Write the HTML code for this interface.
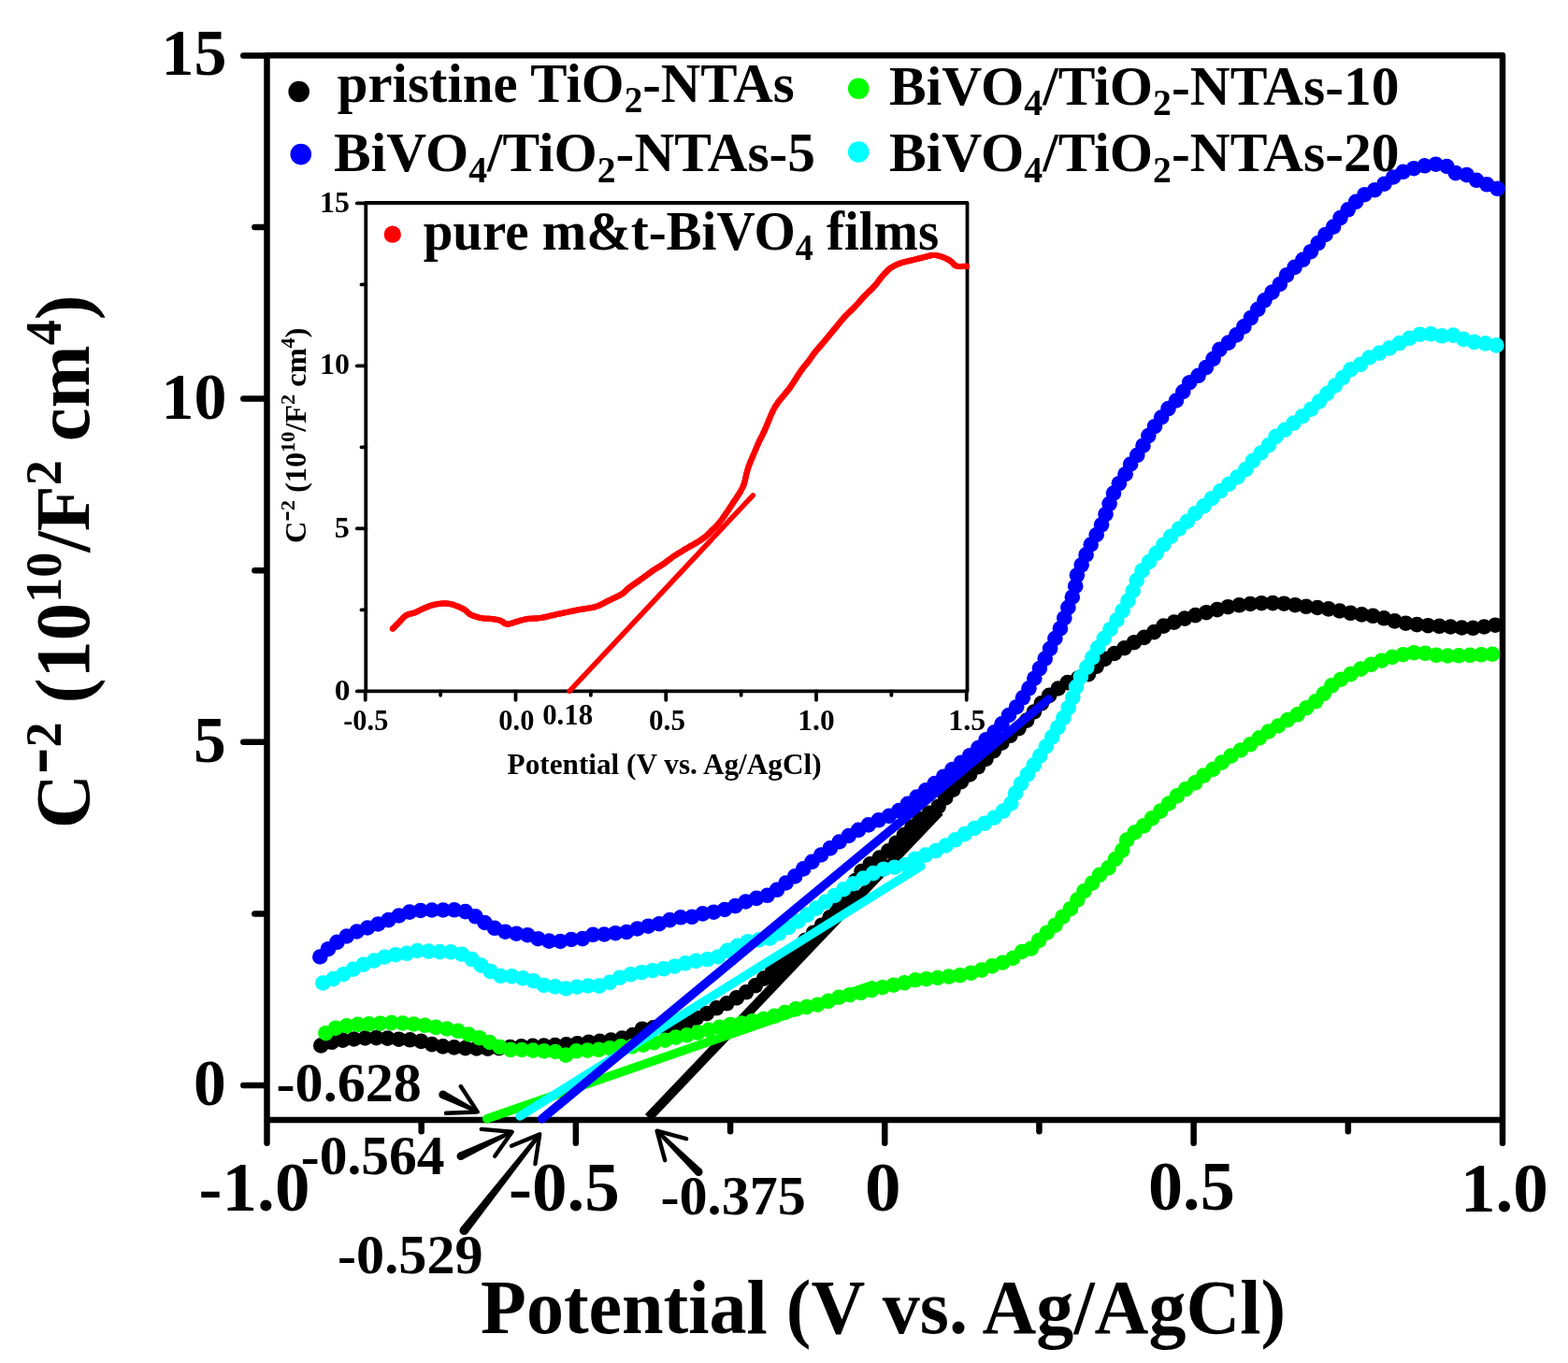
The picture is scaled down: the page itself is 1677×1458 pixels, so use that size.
<!DOCTYPE html>
<html><head><meta charset="utf-8"><title>Mott-Schottky plot</title>
<style>html,body{margin:0;padding:0;background:#fff;overflow:hidden;width:1677px;height:1458px;}svg{display:block;}</style>
</head><body>
<svg width="1677" height="1458" viewBox="0 0 1677 1458" font-family="'Liberation Serif','Times New Roman',serif" font-weight="bold">
<rect width="1677" height="1458" fill="#fff"/>
<path d="M285.5,59.3 H1607.0 V1198.0 H285.5 Z" fill="none" stroke="#000" stroke-width="6.5" stroke-linejoin="round"/><line x1="260.3" y1="1161.0" x2="283.5" y2="1161.0" stroke="#000" stroke-width="6.5" stroke-linecap="round"/><line x1="260.3" y1="793.8" x2="283.5" y2="793.8" stroke="#000" stroke-width="6.5" stroke-linecap="round"/><line x1="260.3" y1="426.6" x2="283.5" y2="426.6" stroke="#000" stroke-width="6.5" stroke-linecap="round"/><line x1="260.3" y1="59.40000000000009" x2="283.5" y2="59.40000000000009" stroke="#000" stroke-width="6.5" stroke-linecap="round"/><line x1="272.4" y1="977.4" x2="283.5" y2="977.4" stroke="#000" stroke-width="6.5" stroke-linecap="round"/><line x1="272.4" y1="610.2" x2="283.5" y2="610.2" stroke="#000" stroke-width="6.5" stroke-linecap="round"/><line x1="272.4" y1="243.0" x2="283.5" y2="243.0" stroke="#000" stroke-width="6.5" stroke-linecap="round"/><line x1="285.5" y1="1200.0" x2="285.5" y2="1222.8" stroke="#000" stroke-width="6.5" stroke-linecap="round"/><line x1="615.875" y1="1200.0" x2="615.875" y2="1222.8" stroke="#000" stroke-width="6.5" stroke-linecap="round"/><line x1="946.25" y1="1200.0" x2="946.25" y2="1222.8" stroke="#000" stroke-width="6.5" stroke-linecap="round"/><line x1="1276.625" y1="1200.0" x2="1276.625" y2="1222.8" stroke="#000" stroke-width="6.5" stroke-linecap="round"/><line x1="1607.0" y1="1200.0" x2="1607.0" y2="1222.8" stroke="#000" stroke-width="6.5" stroke-linecap="round"/><line x1="450.6875" y1="1200.0" x2="450.6875" y2="1210.3" stroke="#000" stroke-width="6.5" stroke-linecap="round"/><line x1="781.0625" y1="1200.0" x2="781.0625" y2="1210.3" stroke="#000" stroke-width="6.5" stroke-linecap="round"/><line x1="1111.4375" y1="1200.0" x2="1111.4375" y2="1210.3" stroke="#000" stroke-width="6.5" stroke-linecap="round"/><line x1="1441.8125" y1="1200.0" x2="1441.8125" y2="1210.3" stroke="#000" stroke-width="6.5" stroke-linecap="round"/>
<g fill="#000"><circle cx="343.3" cy="1118.4" r="8.3"/><circle cx="354.8" cy="1114.8" r="8.3"/><circle cx="366.6" cy="1112.6" r="8.3"/><circle cx="378.5" cy="1111.5" r="8.3"/><circle cx="390.5" cy="1110.5" r="8.3"/><circle cx="402.5" cy="1110.1" r="8.3"/><circle cx="414.5" cy="1110.6" r="8.3"/><circle cx="426.5" cy="1111.7" r="8.3"/><circle cx="438.5" cy="1112.3" r="8.3"/><circle cx="450.4" cy="1113.9" r="8.3"/><circle cx="461.9" cy="1117.1" r="8.3"/><circle cx="473.7" cy="1119.4" r="8.3"/><circle cx="485.7" cy="1120.4" r="8.3"/><circle cx="497.7" cy="1121.1" r="8.3"/><circle cx="509.7" cy="1121.5" r="8.3"/><circle cx="521.7" cy="1121.6" r="8.3"/><circle cx="533.7" cy="1121.1" r="8.3"/><circle cx="545.6" cy="1120.0" r="8.3"/><circle cx="557.6" cy="1119.3" r="8.3"/><circle cx="569.7" cy="1118.9" r="8.3"/><circle cx="581.7" cy="1118.6" r="8.3"/><circle cx="593.7" cy="1118.1" r="8.3"/><circle cx="605.7" cy="1117.4" r="8.3"/><circle cx="617.6" cy="1116.2" r="8.3"/><circle cx="629.6" cy="1114.9" r="8.3"/><circle cx="641.5" cy="1113.8" r="8.3"/><circle cx="653.5" cy="1112.6" r="8.3"/><circle cx="665.3" cy="1110.6" r="8.3"/><circle cx="676.8" cy="1107.1" r="8.3"/><circle cx="686.9" cy="1100.7" r="8.3"/><circle cx="698.8" cy="1099.3" r="8.3"/><circle cx="710.8" cy="1098.3" r="8.3"/><circle cx="722.8" cy="1097.7" r="8.3"/><circle cx="734.1" cy="1094.1" r="8.3"/><circle cx="744.9" cy="1089.0" r="8.3"/><circle cx="755.9" cy="1084.1" r="8.3"/><circle cx="766.4" cy="1078.3" r="8.3"/><circle cx="777.4" cy="1073.3" r="8.3"/><circle cx="787.8" cy="1067.4" r="8.3"/><circle cx="798.1" cy="1061.3" r="8.3"/><circle cx="807.9" cy="1054.3" r="8.3"/><circle cx="817.1" cy="1046.6" r="8.3"/><circle cx="826.1" cy="1038.6" r="8.3"/><circle cx="834.7" cy="1030.2" r="8.3"/><circle cx="843.9" cy="1022.5" r="8.3"/><circle cx="852.7" cy="1014.4" r="8.3"/><circle cx="861.2" cy="1005.8" r="8.3"/><circle cx="870.1" cy="997.7" r="8.3"/><circle cx="879.0" cy="989.7" r="8.3"/><circle cx="887.6" cy="981.3" r="8.3"/><circle cx="895.6" cy="972.3" r="8.3"/><circle cx="903.0" cy="962.9" r="8.3"/><circle cx="909.1" cy="952.6" r="8.3"/><circle cx="914.9" cy="942.0" r="8.3"/><circle cx="921.5" cy="932.0" r="8.3"/><circle cx="930.7" cy="924.4" r="8.3"/><circle cx="940.7" cy="917.6" r="8.3"/><circle cx="950.1" cy="910.3" r="8.3"/><circle cx="958.5" cy="901.7" r="8.3"/><circle cx="967.0" cy="893.1" r="8.3"/><circle cx="975.4" cy="884.6" r="8.3"/><circle cx="983.8" cy="876.0" r="8.3"/><circle cx="994.0" cy="869.8" r="8.3"/><circle cx="1003.6" cy="862.7" r="8.3"/><circle cx="1011.2" cy="853.4" r="8.3"/><circle cx="1019.4" cy="844.6" r="8.3"/><circle cx="1028.0" cy="836.2" r="8.3"/><circle cx="1037.1" cy="828.4" r="8.3"/><circle cx="1046.0" cy="820.3" r="8.3"/><circle cx="1054.5" cy="811.8" r="8.3"/><circle cx="1062.9" cy="803.2" r="8.3"/><circle cx="1071.4" cy="794.7" r="8.3"/><circle cx="1080.4" cy="786.8" r="8.3"/><circle cx="1089.6" cy="779.1" r="8.3"/><circle cx="1098.1" cy="770.6" r="8.3"/><circle cx="1105.9" cy="761.5" r="8.3"/><circle cx="1113.8" cy="752.4" r="8.3"/><circle cx="1122.2" cy="743.9" r="8.3"/><circle cx="1131.7" cy="736.5" r="8.3"/><circle cx="1141.8" cy="730.1" r="8.3"/><circle cx="1153.0" cy="725.6" r="8.3"/><circle cx="1164.1" cy="721.1" r="8.3"/><circle cx="1172.6" cy="712.8" r="8.3"/><circle cx="1181.6" cy="704.9" r="8.3"/><circle cx="1192.0" cy="699.0" r="8.3"/><circle cx="1202.6" cy="693.2" r="8.3"/><circle cx="1213.0" cy="687.2" r="8.3"/><circle cx="1223.7" cy="681.9" r="8.3"/><circle cx="1234.3" cy="676.1" r="8.3"/><circle cx="1244.4" cy="669.6" r="8.3"/><circle cx="1255.7" cy="665.6" r="8.3"/><circle cx="1267.0" cy="661.6" r="8.3"/><circle cx="1278.5" cy="658.1" r="8.3"/><circle cx="1290.2" cy="655.2" r="8.3"/><circle cx="1301.8" cy="652.1" r="8.3"/><circle cx="1313.4" cy="649.2" r="8.3"/><circle cx="1325.3" cy="647.3" r="8.3"/><circle cx="1337.2" cy="646.0" r="8.3"/><circle cx="1349.2" cy="645.2" r="8.3"/><circle cx="1361.2" cy="645.1" r="8.3"/><circle cx="1373.2" cy="645.7" r="8.3"/><circle cx="1385.1" cy="647.2" r="8.3"/><circle cx="1397.0" cy="648.8" r="8.3"/><circle cx="1409.0" cy="650.0" r="8.3"/><circle cx="1420.9" cy="651.4" r="8.3"/><circle cx="1432.8" cy="653.5" r="8.3"/><circle cx="1444.5" cy="655.8" r="8.3"/><circle cx="1456.4" cy="657.4" r="8.3"/><circle cx="1468.4" cy="658.8" r="8.3"/><circle cx="1480.1" cy="661.3" r="8.3"/><circle cx="1491.7" cy="664.4" r="8.3"/><circle cx="1503.5" cy="666.7" r="8.3"/><circle cx="1515.4" cy="668.1" r="8.3"/><circle cx="1527.4" cy="669.2" r="8.3"/><circle cx="1539.4" cy="669.8" r="8.3"/><circle cx="1551.4" cy="670.5" r="8.3"/><circle cx="1563.4" cy="671.5" r="8.3"/><circle cx="1575.4" cy="671.8" r="8.3"/><circle cx="1587.3" cy="670.5" r="8.3"/><circle cx="1599.2" cy="668.7" r="8.3"/></g><polygon points="806,1052 905,975 832,1052" fill="#000"/><line x1="693.5" y1="1195.5" x2="1005" y2="868" stroke="#000" stroke-width="9.9" stroke-linecap="butt"/><g fill="#00ff00"><circle cx="348.4" cy="1105.2" r="8.3"/><circle cx="359.0" cy="1099.7" r="8.3"/><circle cx="370.8" cy="1097.3" r="8.3"/><circle cx="382.7" cy="1095.9" r="8.3"/><circle cx="394.6" cy="1095.3" r="8.3"/><circle cx="406.6" cy="1094.7" r="8.3"/><circle cx="418.6" cy="1094.1" r="8.3"/><circle cx="430.6" cy="1094.5" r="8.3"/><circle cx="442.5" cy="1095.5" r="8.3"/><circle cx="454.5" cy="1096.8" r="8.3"/><circle cx="466.3" cy="1098.9" r="8.3"/><circle cx="478.1" cy="1100.5" r="8.3"/><circle cx="489.9" cy="1102.8" r="8.3"/><circle cx="501.3" cy="1106.5" r="8.3"/><circle cx="512.7" cy="1110.2" r="8.3"/><circle cx="523.7" cy="1115.0" r="8.3"/><circle cx="534.6" cy="1120.0" r="8.3"/><circle cx="546.1" cy="1122.9" r="8.3"/><circle cx="558.1" cy="1123.0" r="8.3"/><circle cx="570.0" cy="1123.6" r="8.3"/><circle cx="582.0" cy="1124.3" r="8.3"/><circle cx="594.0" cy="1125.0" r="8.3"/><circle cx="605.2" cy="1128.6" r="8.3"/><circle cx="616.4" cy="1124.3" r="8.3"/><circle cx="628.3" cy="1123.6" r="8.3"/><circle cx="640.3" cy="1122.8" r="8.3"/><circle cx="652.2" cy="1121.2" r="8.3"/><circle cx="664.0" cy="1119.4" r="8.3"/><circle cx="676.0" cy="1119.3" r="8.3"/><circle cx="687.8" cy="1117.7" r="8.3"/><circle cx="699.5" cy="1115.1" r="8.3"/><circle cx="711.2" cy="1112.7" r="8.3"/><circle cx="722.8" cy="1109.6" r="8.3"/><circle cx="734.6" cy="1107.3" r="8.3"/><circle cx="746.3" cy="1104.6" r="8.3"/><circle cx="757.9" cy="1101.8" r="8.3"/><circle cx="769.5" cy="1098.9" r="8.3"/><circle cx="781.1" cy="1096.0" r="8.3"/><circle cx="793.0" cy="1094.5" r="8.3"/><circle cx="804.8" cy="1092.2" r="8.3"/><circle cx="816.6" cy="1090.0" r="8.3"/><circle cx="828.2" cy="1086.9" r="8.3"/><circle cx="839.5" cy="1083.0" r="8.3"/><circle cx="851.0" cy="1079.4" r="8.3"/><circle cx="862.7" cy="1077.1" r="8.3"/><circle cx="874.5" cy="1074.7" r="8.3"/><circle cx="885.8" cy="1070.9" r="8.3"/><circle cx="897.1" cy="1066.8" r="8.3"/><circle cx="908.8" cy="1064.2" r="8.3"/><circle cx="920.6" cy="1061.9" r="8.3"/><circle cx="932.2" cy="1059.1" r="8.3"/><circle cx="943.8" cy="1056.2" r="8.3"/><circle cx="955.6" cy="1053.7" r="8.3"/><circle cx="967.3" cy="1051.3" r="8.3"/><circle cx="978.9" cy="1048.3" r="8.3"/><circle cx="990.8" cy="1047.2" r="8.3"/><circle cx="1002.8" cy="1046.0" r="8.3"/><circle cx="1014.7" cy="1044.6" r="8.3"/><circle cx="1026.6" cy="1043.3" r="8.3"/><circle cx="1038.3" cy="1040.8" r="8.3"/><circle cx="1049.8" cy="1037.6" r="8.3"/><circle cx="1061.1" cy="1033.4" r="8.3"/><circle cx="1072.4" cy="1029.7" r="8.3"/><circle cx="1083.3" cy="1025.0" r="8.3"/><circle cx="1093.0" cy="1018.0" r="8.3"/><circle cx="1102.7" cy="1014.7" r="8.3"/><circle cx="1111.1" cy="1006.1" r="8.3"/><circle cx="1119.7" cy="997.7" r="8.3"/><circle cx="1128.5" cy="989.7" r="8.3"/><circle cx="1136.5" cy="980.7" r="8.3"/><circle cx="1144.9" cy="972.2" r="8.3"/><circle cx="1152.2" cy="962.6" r="8.3"/><circle cx="1159.5" cy="953.2" r="8.3"/><circle cx="1168.0" cy="944.7" r="8.3"/><circle cx="1176.0" cy="935.8" r="8.3"/><circle cx="1185.5" cy="928.4" r="8.3"/><circle cx="1192.8" cy="919.0" r="8.3"/><circle cx="1200.2" cy="909.6" r="8.3"/><circle cx="1205.1" cy="898.6" r="8.3"/><circle cx="1213.5" cy="890.5" r="8.3"/><circle cx="1223.1" cy="883.4" r="8.3"/><circle cx="1232.0" cy="875.4" r="8.3"/><circle cx="1241.1" cy="867.6" r="8.3"/><circle cx="1250.0" cy="859.5" r="8.3"/><circle cx="1258.8" cy="851.4" r="8.3"/><circle cx="1268.2" cy="844.0" r="8.3"/><circle cx="1278.2" cy="837.4" r="8.3"/><circle cx="1287.3" cy="829.6" r="8.3"/><circle cx="1297.3" cy="823.0" r="8.3"/><circle cx="1306.7" cy="815.6" r="8.3"/><circle cx="1316.5" cy="808.6" r="8.3"/><circle cx="1326.8" cy="802.5" r="8.3"/><circle cx="1337.1" cy="796.3" r="8.3"/><circle cx="1346.8" cy="789.4" r="8.3"/><circle cx="1356.7" cy="782.5" r="8.3"/><circle cx="1367.0" cy="776.5" r="8.3"/><circle cx="1377.2" cy="770.1" r="8.3"/><circle cx="1387.7" cy="764.3" r="8.3"/><circle cx="1397.3" cy="757.2" r="8.3"/><circle cx="1407.1" cy="750.3" r="8.3"/><circle cx="1415.8" cy="742.0" r="8.3"/><circle cx="1424.2" cy="733.4" r="8.3"/><circle cx="1434.1" cy="726.7" r="8.3"/><circle cx="1444.6" cy="721.1" r="8.3"/><circle cx="1455.3" cy="715.6" r="8.3"/><circle cx="1466.3" cy="710.9" r="8.3"/><circle cx="1477.6" cy="706.7" r="8.3"/><circle cx="1489.0" cy="702.9" r="8.3"/><circle cx="1500.6" cy="700.2" r="8.3"/><circle cx="1512.4" cy="698.2" r="8.3"/><circle cx="1524.4" cy="698.8" r="8.3"/><circle cx="1536.2" cy="700.8" r="8.3"/><circle cx="1548.2" cy="701.5" r="8.3"/><circle cx="1560.2" cy="701.3" r="8.3"/><circle cx="1572.1" cy="700.9" r="8.3"/><circle cx="1584.1" cy="700.3" r="8.3"/><circle cx="1596.1" cy="699.7" r="8.3"/></g><line x1="520.7" y1="1196.7" x2="933" y2="1053.7" stroke="#00ff00" stroke-width="9.4" stroke-linecap="round"/><g fill="#00ffff"><circle cx="345.3" cy="1051.5" r="8.3"/><circle cx="356.4" cy="1047.1" r="8.3"/><circle cx="367.3" cy="1042.2" r="8.3"/><circle cx="377.9" cy="1036.7" r="8.3"/><circle cx="388.8" cy="1031.7" r="8.3"/><circle cx="400.0" cy="1027.6" r="8.3"/><circle cx="411.3" cy="1023.7" r="8.3"/><circle cx="423.0" cy="1021.2" r="8.3"/><circle cx="434.9" cy="1019.8" r="8.3"/><circle cx="446.4" cy="1017.0" r="8.3"/><circle cx="458.4" cy="1017.6" r="8.3"/><circle cx="470.3" cy="1018.1" r="8.3"/><circle cx="482.2" cy="1018.4" r="8.3"/><circle cx="493.9" cy="1020.7" r="8.3"/><circle cx="504.6" cy="1026.1" r="8.3"/><circle cx="514.6" cy="1032.6" r="8.3"/><circle cx="524.6" cy="1039.1" r="8.3"/><circle cx="535.4" cy="1044.0" r="8.3"/><circle cx="547.4" cy="1044.4" r="8.3"/><circle cx="559.2" cy="1046.4" r="8.3"/><circle cx="570.8" cy="1049.3" r="8.3"/><circle cx="581.7" cy="1054.0" r="8.3"/><circle cx="593.6" cy="1055.4" r="8.3"/><circle cx="605.3" cy="1057.5" r="8.3"/><circle cx="617.0" cy="1055.7" r="8.3"/><circle cx="628.9" cy="1054.5" r="8.3"/><circle cx="640.8" cy="1054.6" r="8.3"/><circle cx="652.1" cy="1050.9" r="8.3"/><circle cx="662.9" cy="1045.7" r="8.3"/><circle cx="674.4" cy="1042.4" r="8.3"/><circle cx="686.1" cy="1040.2" r="8.3"/><circle cx="697.9" cy="1038.2" r="8.3"/><circle cx="709.7" cy="1036.3" r="8.3"/><circle cx="721.4" cy="1033.7" r="8.3"/><circle cx="732.9" cy="1030.4" r="8.3"/><circle cx="744.5" cy="1027.9" r="8.3"/><circle cx="756.4" cy="1026.3" r="8.3"/><circle cx="767.9" cy="1023.5" r="8.3"/><circle cx="777.9" cy="1016.9" r="8.3"/><circle cx="788.7" cy="1011.9" r="8.3"/><circle cx="799.7" cy="1007.2" r="8.3"/><circle cx="811.5" cy="1005.4" r="8.3"/><circle cx="823.3" cy="1003.7" r="8.3"/><circle cx="833.3" cy="998.3" r="8.3"/><circle cx="843.4" cy="991.9" r="8.3"/><circle cx="853.5" cy="985.5" r="8.3"/><circle cx="863.3" cy="978.6" r="8.3"/><circle cx="872.9" cy="971.6" r="8.3"/><circle cx="882.8" cy="964.8" r="8.3"/><circle cx="892.6" cy="958.0" r="8.3"/><circle cx="902.4" cy="951.2" r="8.3"/><circle cx="912.8" cy="945.2" r="8.3"/><circle cx="923.3" cy="939.5" r="8.3"/><circle cx="934.0" cy="934.1" r="8.3"/><circle cx="945.1" cy="929.7" r="8.3"/><circle cx="956.8" cy="927.7" r="8.3"/><circle cx="968.4" cy="925.0" r="8.3"/><circle cx="978.6" cy="918.7" r="8.3"/><circle cx="989.8" cy="914.6" r="8.3"/><circle cx="1000.9" cy="910.1" r="8.3"/><circle cx="1011.5" cy="904.5" r="8.3"/><circle cx="1021.7" cy="898.3" r="8.3"/><circle cx="1031.8" cy="892.1" r="8.3"/><circle cx="1042.2" cy="886.0" r="8.3"/><circle cx="1052.9" cy="880.8" r="8.3"/><circle cx="1063.2" cy="874.7" r="8.3"/><circle cx="1072.8" cy="867.6" r="8.3"/><circle cx="1081.3" cy="859.5" r="8.3"/><circle cx="1086.0" cy="848.5" r="8.3"/><circle cx="1092.1" cy="838.2" r="8.3"/><circle cx="1098.9" cy="828.4" r="8.3"/><circle cx="1105.6" cy="818.4" r="8.3"/><circle cx="1112.2" cy="808.5" r="8.3"/><circle cx="1118.7" cy="798.5" r="8.3"/><circle cx="1125.2" cy="788.4" r="8.3"/><circle cx="1131.4" cy="778.2" r="8.3"/><circle cx="1137.4" cy="767.8" r="8.3"/><circle cx="1142.7" cy="757.1" r="8.3"/><circle cx="1147.3" cy="746.1" r="8.3"/><circle cx="1151.1" cy="734.8" r="8.3"/><circle cx="1155.9" cy="723.9" r="8.3"/><circle cx="1162.3" cy="713.8" r="8.3"/><circle cx="1168.3" cy="703.4" r="8.3"/><circle cx="1174.1" cy="693.0" r="8.3"/><circle cx="1180.7" cy="683.0" r="8.3"/><circle cx="1187.5" cy="673.2" r="8.3"/><circle cx="1194.4" cy="663.4" r="8.3"/><circle cx="1200.6" cy="653.2" r="8.3"/><circle cx="1206.4" cy="642.7" r="8.3"/><circle cx="1211.7" cy="632.0" r="8.3"/><circle cx="1215.7" cy="620.8" r="8.3"/><circle cx="1221.5" cy="610.4" r="8.3"/><circle cx="1229.0" cy="601.0" r="8.3"/><circle cx="1236.6" cy="591.8" r="8.3"/><circle cx="1244.3" cy="582.7" r="8.3"/><circle cx="1252.2" cy="573.8" r="8.3"/><circle cx="1261.0" cy="565.6" r="8.3"/><circle cx="1269.9" cy="557.7" r="8.3"/><circle cx="1278.3" cy="549.2" r="8.3"/><circle cx="1287.4" cy="541.4" r="8.3"/><circle cx="1296.1" cy="533.2" r="8.3"/><circle cx="1305.1" cy="525.3" r="8.3"/><circle cx="1314.3" cy="517.8" r="8.3"/><circle cx="1323.6" cy="510.2" r="8.3"/><circle cx="1332.3" cy="502.1" r="8.3"/><circle cx="1339.9" cy="492.9" r="8.3"/><circle cx="1348.5" cy="484.5" r="8.3"/><circle cx="1357.0" cy="476.1" r="8.3"/><circle cx="1364.6" cy="466.9" r="8.3"/><circle cx="1374.1" cy="459.8" r="8.3"/><circle cx="1383.5" cy="452.6" r="8.3"/><circle cx="1393.0" cy="445.2" r="8.3"/><circle cx="1402.2" cy="437.7" r="8.3"/><circle cx="1410.9" cy="429.5" r="8.3"/><circle cx="1419.3" cy="421.0" r="8.3"/><circle cx="1427.8" cy="412.5" r="8.3"/><circle cx="1436.1" cy="404.0" r="8.3"/><circle cx="1444.4" cy="395.3" r="8.3"/><circle cx="1455.0" cy="389.9" r="8.3"/><circle cx="1464.4" cy="382.5" r="8.3"/><circle cx="1475.2" cy="377.6" r="8.3"/><circle cx="1486.0" cy="372.4" r="8.3"/><circle cx="1496.7" cy="367.1" r="8.3"/><circle cx="1507.4" cy="361.8" r="8.3"/><circle cx="1518.5" cy="357.7" r="8.3"/><circle cx="1530.4" cy="357.3" r="8.3"/><circle cx="1542.1" cy="359.3" r="8.3"/><circle cx="1554.1" cy="358.6" r="8.3"/><circle cx="1565.2" cy="362.9" r="8.3"/><circle cx="1576.8" cy="365.9" r="8.3"/><circle cx="1588.6" cy="367.4" r="8.3"/><circle cx="1600.4" cy="369.4" r="8.3"/></g><line x1="556" y1="1194" x2="985" y2="926.5" stroke="#00ffff" stroke-width="9.4" stroke-linecap="round"/><g fill="#0000ff"><circle cx="342.3" cy="1023.5" r="8.3"/><circle cx="351.0" cy="1015.2" r="8.3"/><circle cx="360.5" cy="1007.9" r="8.3"/><circle cx="370.7" cy="1001.5" r="8.3"/><circle cx="381.6" cy="996.5" r="8.3"/><circle cx="393.0" cy="992.5" r="8.3"/><circle cx="404.3" cy="988.5" r="8.3"/><circle cx="415.5" cy="984.1" r="8.3"/><circle cx="426.6" cy="979.5" r="8.3"/><circle cx="438.0" cy="975.6" r="8.3"/><circle cx="449.8" cy="974.0" r="8.3"/><circle cx="461.9" cy="973.5" r="8.3"/><circle cx="473.9" cy="973.5" r="8.3"/><circle cx="485.9" cy="973.3" r="8.3"/><circle cx="497.7" cy="975.1" r="8.3"/><circle cx="508.5" cy="980.3" r="8.3"/><circle cx="518.5" cy="987.0" r="8.3"/><circle cx="529.0" cy="992.8" r="8.3"/><circle cx="540.4" cy="996.7" r="8.3"/><circle cx="552.3" cy="998.7" r="8.3"/><circle cx="564.2" cy="1000.2" r="8.3"/><circle cx="575.4" cy="1004.2" r="8.3"/><circle cx="587.2" cy="1006.6" r="8.3"/><circle cx="599.2" cy="1007.0" r="8.3"/><circle cx="611.0" cy="1005.0" r="8.3"/><circle cx="623.0" cy="1004.1" r="8.3"/><circle cx="634.2" cy="999.8" r="8.3"/><circle cx="646.2" cy="999.5" r="8.3"/><circle cx="658.2" cy="998.2" r="8.3"/><circle cx="670.1" cy="997.0" r="8.3"/><circle cx="681.6" cy="993.5" r="8.3"/><circle cx="693.3" cy="990.7" r="8.3"/><circle cx="705.0" cy="988.2" r="8.3"/><circle cx="716.3" cy="984.1" r="8.3"/><circle cx="728.0" cy="981.3" r="8.3"/><circle cx="740.0" cy="980.8" r="8.3"/><circle cx="751.5" cy="977.4" r="8.3"/><circle cx="763.3" cy="975.7" r="8.3"/><circle cx="775.0" cy="973.0" r="8.3"/><circle cx="786.4" cy="969.1" r="8.3"/><circle cx="797.5" cy="964.5" r="8.3"/><circle cx="809.0" cy="960.9" r="8.3"/><circle cx="820.6" cy="957.8" r="8.3"/><circle cx="831.0" cy="951.8" r="8.3"/><circle cx="840.5" cy="944.5" r="8.3"/><circle cx="850.2" cy="937.4" r="8.3"/><circle cx="859.2" cy="929.4" r="8.3"/><circle cx="868.5" cy="921.8" r="8.3"/><circle cx="878.1" cy="914.5" r="8.3"/><circle cx="887.8" cy="907.4" r="8.3"/><circle cx="897.6" cy="900.5" r="8.3"/><circle cx="907.8" cy="894.0" r="8.3"/><circle cx="918.1" cy="887.9" r="8.3"/><circle cx="928.8" cy="882.4" r="8.3"/><circle cx="939.7" cy="877.3" r="8.3"/><circle cx="950.9" cy="872.9" r="8.3"/><circle cx="961.4" cy="867.1" r="8.3"/><circle cx="970.9" cy="859.8" r="8.3"/><circle cx="980.5" cy="852.5" r="8.3"/><circle cx="990.1" cy="845.3" r="8.3"/><circle cx="999.7" cy="838.1" r="8.3"/><circle cx="1009.2" cy="830.7" r="8.3"/><circle cx="1018.5" cy="823.1" r="8.3"/><circle cx="1028.0" cy="815.7" r="8.3"/><circle cx="1037.3" cy="808.2" r="8.3"/><circle cx="1046.3" cy="800.1" r="8.3"/><circle cx="1054.5" cy="791.4" r="8.3"/><circle cx="1063.5" cy="783.4" r="8.3"/><circle cx="1071.5" cy="774.4" r="8.3"/><circle cx="1079.0" cy="765.0" r="8.3"/><circle cx="1087.2" cy="756.2" r="8.3"/><circle cx="1094.0" cy="746.3" r="8.3"/><circle cx="1100.5" cy="736.3" r="8.3"/><circle cx="1106.3" cy="725.7" r="8.3"/><circle cx="1111.9" cy="715.1" r="8.3"/><circle cx="1117.7" cy="704.6" r="8.3"/><circle cx="1123.1" cy="693.8" r="8.3"/><circle cx="1128.4" cy="683.0" r="8.3"/><circle cx="1133.9" cy="672.4" r="8.3"/><circle cx="1138.3" cy="661.2" r="8.3"/><circle cx="1142.4" cy="649.9" r="8.3"/><circle cx="1146.8" cy="638.7" r="8.3"/><circle cx="1150.2" cy="627.2" r="8.3"/><circle cx="1151.9" cy="615.3" r="8.3"/><circle cx="1156.7" cy="604.3" r="8.3"/><circle cx="1161.6" cy="593.4" r="8.3"/><circle cx="1166.7" cy="582.5" r="8.3"/><circle cx="1172.7" cy="572.0" r="8.3"/><circle cx="1178.1" cy="561.3" r="8.3"/><circle cx="1182.5" cy="550.1" r="8.3"/><circle cx="1186.6" cy="538.8" r="8.3"/><circle cx="1191.0" cy="527.6" r="8.3"/><circle cx="1196.9" cy="517.2" r="8.3"/><circle cx="1203.6" cy="507.2" r="8.3"/><circle cx="1209.1" cy="496.5" r="8.3"/><circle cx="1216.3" cy="486.9" r="8.3"/><circle cx="1222.5" cy="476.7" r="8.3"/><circle cx="1228.3" cy="466.1" r="8.3"/><circle cx="1235.0" cy="456.2" r="8.3"/><circle cx="1242.1" cy="446.5" r="8.3"/><circle cx="1249.5" cy="437.1" r="8.3"/><circle cx="1257.9" cy="428.5" r="8.3"/><circle cx="1265.3" cy="419.0" r="8.3"/><circle cx="1272.2" cy="409.2" r="8.3"/><circle cx="1281.6" cy="401.8" r="8.3"/><circle cx="1289.9" cy="393.1" r="8.3"/><circle cx="1297.6" cy="383.8" r="8.3"/><circle cx="1304.4" cy="373.9" r="8.3"/><circle cx="1313.8" cy="366.6" r="8.3"/><circle cx="1322.3" cy="358.4" r="8.3"/><circle cx="1330.3" cy="349.4" r="8.3"/><circle cx="1337.8" cy="340.1" r="8.3"/><circle cx="1345.3" cy="330.8" r="8.3"/><circle cx="1352.4" cy="321.3" r="8.3"/><circle cx="1360.5" cy="312.6" r="8.3"/><circle cx="1368.8" cy="304.0" r="8.3"/><circle cx="1376.0" cy="294.4" r="8.3"/><circle cx="1384.6" cy="285.9" r="8.3"/><circle cx="1393.4" cy="277.8" r="8.3"/><circle cx="1401.9" cy="269.2" r="8.3"/><circle cx="1409.7" cy="260.1" r="8.3"/><circle cx="1417.5" cy="251.0" r="8.3"/><circle cx="1426.1" cy="242.6" r="8.3"/><circle cx="1433.5" cy="233.1" r="8.3"/><circle cx="1441.7" cy="224.3" r="8.3"/><circle cx="1450.2" cy="215.9" r="8.3"/><circle cx="1459.5" cy="208.2" r="8.3"/><circle cx="1470.4" cy="203.2" r="8.3"/><circle cx="1480.5" cy="196.7" r="8.3"/><circle cx="1490.1" cy="189.5" r="8.3"/><circle cx="1500.6" cy="183.8" r="8.3"/><circle cx="1512.1" cy="180.2" r="8.3"/><circle cx="1523.7" cy="177.3" r="8.3"/><circle cx="1535.6" cy="175.7" r="8.3"/><circle cx="1547.4" cy="178.0" r="8.3"/><circle cx="1556.8" cy="185.1" r="8.3"/><circle cx="1568.7" cy="187.1" r="8.3"/><circle cx="1579.2" cy="192.8" r="8.3"/><circle cx="1590.3" cy="197.3" r="8.3"/><circle cx="1601.5" cy="201.8" r="8.3"/></g><line x1="579.8" y1="1196.7" x2="1121.5" y2="748" stroke="#0000ff" stroke-width="9.4" stroke-linecap="round"/>

<path d="M391.3,217.0 H1034.5 V739.4 H391.3 Z" fill="none" stroke="#000" stroke-width="3.8" stroke-linejoin="round"/><line x1="381.8" y1="739.4" x2="391.3" y2="739.4" stroke="#000" stroke-width="3.8" stroke-linecap="round"/><line x1="381.8" y1="565.4" x2="391.3" y2="565.4" stroke="#000" stroke-width="3.8" stroke-linecap="round"/><line x1="381.8" y1="391.4" x2="391.3" y2="391.4" stroke="#000" stroke-width="3.8" stroke-linecap="round"/><line x1="381.8" y1="217.39999999999998" x2="391.3" y2="217.39999999999998" stroke="#000" stroke-width="3.8" stroke-linecap="round"/><line x1="386.5" y1="652.4" x2="391.3" y2="652.4" stroke="#000" stroke-width="3.8" stroke-linecap="round"/><line x1="386.5" y1="478.4" x2="391.3" y2="478.4" stroke="#000" stroke-width="3.8" stroke-linecap="round"/><line x1="386.5" y1="304.40000000000003" x2="391.3" y2="304.40000000000003" stroke="#000" stroke-width="3.8" stroke-linecap="round"/><line x1="390.75" y1="739.4" x2="390.75" y2="748.8" stroke="#000" stroke-width="3.8" stroke-linecap="round"/><line x1="551.5" y1="739.4" x2="551.5" y2="748.8" stroke="#000" stroke-width="3.8" stroke-linecap="round"/><line x1="712.25" y1="739.4" x2="712.25" y2="748.8" stroke="#000" stroke-width="3.8" stroke-linecap="round"/><line x1="873.0" y1="739.4" x2="873.0" y2="748.8" stroke="#000" stroke-width="3.8" stroke-linecap="round"/><line x1="1033.75" y1="739.4" x2="1033.75" y2="748.8" stroke="#000" stroke-width="3.8" stroke-linecap="round"/><line x1="471.125" y1="739.4" x2="471.125" y2="743.8" stroke="#000" stroke-width="3.8" stroke-linecap="round"/><line x1="631.875" y1="739.4" x2="631.875" y2="743.8" stroke="#000" stroke-width="3.8" stroke-linecap="round"/><line x1="792.625" y1="739.4" x2="792.625" y2="743.8" stroke="#000" stroke-width="3.8" stroke-linecap="round"/><line x1="953.375" y1="739.4" x2="953.375" y2="743.8" stroke="#000" stroke-width="3.8" stroke-linecap="round"/><circle cx="419.8" cy="250.7" r="9.1" fill="#ff0000"/><polyline points="420.0,672.5 421.2,671.3 422.9,669.6 424.8,667.7 426.7,665.8 428.5,663.9 430.4,661.8 432.3,659.8 434.4,658.2 436.7,657.2 439.2,656.5 441.6,656.0 443.9,655.3 445.9,654.4 447.7,653.5 449.5,652.5 451.5,651.5 453.8,650.5 456.2,649.5 458.7,648.5 461.1,647.7 463.5,647.0 465.9,646.5 468.2,646.1 470.6,645.8 473.0,645.6 475.4,645.5 477.8,645.6 480.2,645.8 482.6,646.3 485.1,647.0 487.5,647.8 489.7,648.7 491.8,649.6 493.7,650.5 495.6,651.5 497.3,652.5 498.7,653.7 500.0,654.9 501.3,656.1 503.1,657.3 505.6,658.4 508.4,659.4 511.5,660.4 514.5,661.1 517.4,661.5 520.4,661.7 523.3,661.8 526.0,662.0 528.6,662.4 531.1,662.8 533.4,663.3 535.5,663.9 537.3,664.9 538.8,666.1 540.3,667.2 542.2,667.7 544.5,667.5 547.2,666.7 549.9,665.8 552.7,664.9 555.4,664.1 558.2,663.3 561.1,662.6 564.1,662.0 567.3,661.7 570.7,661.5 574.1,661.4 577.5,661.1 580.8,660.5 584.1,659.8 587.5,659.0 590.8,658.2 594.1,657.5 597.5,656.7 600.8,656.0 604.2,655.3 607.5,654.6 610.8,653.9 614.1,653.2 617.6,652.5 621.4,651.8 625.6,651.2 629.5,650.6 632.8,650.0 635.2,649.5 636.9,649.0 638.5,648.5 640.5,647.7 643.0,646.5 645.8,645.1 648.8,643.6 651.9,642.0 655.2,640.4 658.8,638.7 662.3,637.0 665.3,635.3 667.5,633.7 669.1,632.1 670.7,630.5 672.9,628.6 675.8,626.4 679.2,624.0 682.8,621.5 686.3,619.1 689.7,616.6 693.1,614.1 696.5,611.7 699.6,609.5 702.4,607.7 705.0,606.1 707.4,604.6 709.9,603.0 712.3,601.2 714.7,599.4 717.1,597.5 719.8,595.6 722.9,593.6 726.2,591.5 729.7,589.4 732.9,587.4 735.9,585.6 738.8,584.0 741.7,582.4 744.4,580.8 747.1,579.1 749.7,577.5 752.1,575.8 754.3,574.2 756.1,572.6 757.7,571.1 759.2,569.4 760.9,567.7 762.8,565.8 764.9,563.9 767.0,561.7 769.1,559.4 771.2,556.7 773.4,553.7 775.4,550.7 777.4,547.9 779.1,545.3 780.8,542.8 782.3,540.4 783.9,538.0 785.6,535.5 787.3,533.0 789.0,530.6 790.5,528.1 791.9,525.7 793.2,523.4 794.4,521.0 795.5,518.3 796.4,515.2 797.3,511.7 798.0,508.2 798.8,505.1 799.6,502.4 800.3,500.0 801.2,497.7 802.1,495.2 803.2,492.4 804.5,489.6 805.7,486.6 807.0,483.7 808.2,480.8 809.4,477.9 810.7,475.0 811.9,472.2 813.1,469.6 814.4,467.3 815.7,464.8 816.9,462.3 818.1,459.5 819.4,456.7 820.6,453.7 821.8,450.8 823.0,447.8 824.2,444.8 825.5,441.9 826.7,439.3 827.9,437.0 829.1,434.9 830.3,433.0 831.7,431.0 833.2,428.9 834.9,426.9 836.6,424.8 838.3,422.8 840.0,420.8 841.6,418.8 843.3,416.8 844.9,414.6 846.5,412.2 848.1,409.8 849.8,407.2 851.4,404.7 853.0,402.2 854.7,399.6 856.3,397.2 858.0,394.8 859.7,392.6 861.3,390.6 863.0,388.6 864.6,386.6 866.0,384.6 867.4,382.6 868.9,380.5 870.7,378.1 873.1,375.2 875.8,371.9 878.7,368.5 881.5,365.2 884.2,362.0 886.9,358.8 889.5,355.5 892.2,352.3 894.9,349.0 897.5,345.7 900.2,342.5 902.9,339.4 905.6,336.6 908.3,334.0 911.0,331.4 913.7,328.7 916.4,325.8 919.1,322.8 921.7,319.8 924.4,316.9 927.1,314.1 929.9,311.5 932.6,308.9 935.1,306.2 937.4,303.5 939.5,300.7 941.6,297.9 943.7,295.4 945.8,293.0 947.9,290.8 950.0,288.7 952.3,286.8 954.8,285.2 957.4,283.8 960.1,282.6 963.0,281.5 966.1,280.5 969.3,279.7 972.6,279.0 975.9,278.2 979.2,277.4 982.5,276.5 985.8,275.7 988.8,275.0 991.5,274.3 993.9,273.6 996.2,273.1 998.5,272.9 1000.9,273.1 1003.4,273.5 1005.8,274.2 1008.1,275.0 1010.4,275.9 1012.6,276.9 1014.7,278.1 1016.7,279.3 1018.4,280.7 1019.8,282.3 1021.2,283.7 1023.1,284.7 1025.7,285.1 1028.9,285.0 1031.9,284.8 1033.9,284.7" fill="none" stroke="#ff0000" stroke-width="6" stroke-linejoin="round" stroke-linecap="round"/><g fill="#ff0000"><circle cx="420.0" cy="672.5" r="3.2"/><circle cx="421.8" cy="670.7" r="3.2"/><circle cx="423.7" cy="668.8" r="3.2"/><circle cx="425.5" cy="667.0" r="3.2"/><circle cx="427.3" cy="665.1" r="3.2"/><circle cx="429.1" cy="663.2" r="3.2"/><circle cx="430.8" cy="661.3" r="3.2"/><circle cx="432.7" cy="659.5" r="3.2"/><circle cx="434.8" cy="658.0" r="3.2"/><circle cx="437.2" cy="657.0" r="3.2"/><circle cx="439.7" cy="656.4" r="3.2"/><circle cx="442.2" cy="655.8" r="3.2"/><circle cx="444.7" cy="655.0" r="3.2"/><circle cx="447.0" cy="653.8" r="3.2"/><circle cx="449.3" cy="652.6" r="3.2"/><circle cx="451.6" cy="651.4" r="3.2"/><circle cx="454.0" cy="650.4" r="3.2"/><circle cx="456.4" cy="649.4" r="3.2"/><circle cx="458.8" cy="648.5" r="3.2"/><circle cx="461.3" cy="647.6" r="3.2"/><circle cx="463.8" cy="647.0" r="3.2"/><circle cx="466.3" cy="646.4" r="3.2"/><circle cx="468.9" cy="646.0" r="3.2"/><circle cx="471.5" cy="645.7" r="3.2"/><circle cx="474.1" cy="645.5" r="3.2"/><circle cx="476.7" cy="645.5" r="3.2"/><circle cx="479.2" cy="645.7" r="3.2"/><circle cx="481.8" cy="646.1" r="3.2"/><circle cx="484.3" cy="646.8" r="3.2"/><circle cx="486.8" cy="647.6" r="3.2"/><circle cx="489.2" cy="648.5" r="3.2"/><circle cx="491.6" cy="649.5" r="3.2"/><circle cx="494.0" cy="650.6" r="3.2"/><circle cx="496.2" cy="651.8" r="3.2"/><circle cx="498.4" cy="653.3" r="3.2"/><circle cx="500.2" cy="655.1" r="3.2"/><circle cx="502.2" cy="656.8" r="3.2"/><circle cx="504.5" cy="658.0" r="3.2"/><circle cx="506.9" cy="658.9" r="3.2"/><circle cx="509.4" cy="659.8" r="3.2"/><circle cx="511.9" cy="660.5" r="3.2"/><circle cx="514.4" cy="661.1" r="3.2"/><circle cx="517.0" cy="661.5" r="3.2"/><circle cx="519.6" cy="661.6" r="3.2"/><circle cx="522.2" cy="661.7" r="3.2"/><circle cx="524.8" cy="661.9" r="3.2"/><circle cx="527.3" cy="662.2" r="3.2"/><circle cx="529.9" cy="662.6" r="3.2"/><circle cx="532.5" cy="663.1" r="3.2"/><circle cx="535.0" cy="663.7" r="3.2"/><circle cx="537.3" cy="664.9" r="3.2"/><circle cx="539.3" cy="666.5" r="3.2"/><circle cx="541.6" cy="667.6" r="3.2"/><circle cx="544.2" cy="667.5" r="3.2"/><circle cx="546.7" cy="666.9" r="3.2"/><circle cx="549.2" cy="666.0" r="3.2"/><circle cx="551.6" cy="665.2" r="3.2"/><circle cx="554.1" cy="664.5" r="3.2"/><circle cx="556.6" cy="663.8" r="3.2"/><circle cx="559.1" cy="663.1" r="3.2"/><circle cx="561.6" cy="662.5" r="3.2"/><circle cx="564.2" cy="662.0" r="3.2"/><circle cx="566.8" cy="661.7" r="3.2"/><circle cx="569.4" cy="661.6" r="3.2"/><circle cx="572.0" cy="661.5" r="3.2"/><circle cx="574.5" cy="661.4" r="3.2"/><circle cx="577.1" cy="661.1" r="3.2"/><circle cx="579.7" cy="660.7" r="3.2"/><circle cx="582.2" cy="660.2" r="3.2"/><circle cx="584.8" cy="659.6" r="3.2"/><circle cx="587.3" cy="659.0" r="3.2"/><circle cx="589.8" cy="658.4" r="3.2"/><circle cx="592.3" cy="657.9" r="3.2"/><circle cx="594.9" cy="657.3" r="3.2"/><circle cx="597.4" cy="656.8" r="3.2"/><circle cx="600.0" cy="656.2" r="3.2"/><circle cx="602.5" cy="655.7" r="3.2"/><circle cx="605.0" cy="655.1" r="3.2"/><circle cx="607.6" cy="654.6" r="3.2"/><circle cx="610.1" cy="654.0" r="3.2"/><circle cx="612.7" cy="653.5" r="3.2"/><circle cx="615.2" cy="653.0" r="3.2"/><circle cx="617.7" cy="652.5" r="3.2"/><circle cx="620.3" cy="652.0" r="3.2"/><circle cx="622.9" cy="651.6" r="3.2"/><circle cx="625.4" cy="651.2" r="3.2"/><circle cx="628.0" cy="650.8" r="3.2"/><circle cx="630.6" cy="650.4" r="3.2"/><circle cx="633.1" cy="649.9" r="3.2"/><circle cx="635.6" cy="649.4" r="3.2"/><circle cx="638.1" cy="648.6" r="3.2"/><circle cx="640.5" cy="647.7" r="3.2"/><circle cx="642.9" cy="646.6" r="3.2"/><circle cx="645.2" cy="645.4" r="3.2"/><circle cx="647.5" cy="644.2" r="3.2"/><circle cx="649.8" cy="643.0" r="3.2"/><circle cx="652.2" cy="641.9" r="3.2"/><circle cx="654.5" cy="640.7" r="3.2"/><circle cx="656.8" cy="639.6" r="3.2"/><circle cx="659.2" cy="638.5" r="3.2"/><circle cx="661.5" cy="637.4" r="3.2"/><circle cx="663.8" cy="636.2" r="3.2"/><circle cx="666.0" cy="634.8" r="3.2"/><circle cx="668.0" cy="633.2" r="3.2"/><circle cx="669.9" cy="631.3" r="3.2"/><circle cx="671.7" cy="629.5" r="3.2"/><circle cx="673.8" cy="627.9" r="3.2"/><circle cx="675.9" cy="626.4" r="3.2"/><circle cx="678.0" cy="624.9" r="3.2"/><circle cx="680.1" cy="623.4" r="3.2"/><circle cx="682.3" cy="621.9" r="3.2"/><circle cx="684.4" cy="620.5" r="3.2"/><circle cx="686.5" cy="619.0" r="3.2"/><circle cx="688.6" cy="617.4" r="3.2"/><circle cx="690.7" cy="615.9" r="3.2"/><circle cx="692.8" cy="614.4" r="3.2"/><circle cx="694.9" cy="612.8" r="3.2"/><circle cx="697.0" cy="611.3" r="3.2"/><circle cx="699.1" cy="609.8" r="3.2"/><circle cx="701.3" cy="608.4" r="3.2"/><circle cx="703.5" cy="607.0" r="3.2"/><circle cx="705.7" cy="605.7" r="3.2"/><circle cx="707.9" cy="604.3" r="3.2"/><circle cx="710.1" cy="602.9" r="3.2"/><circle cx="712.2" cy="601.3" r="3.2"/><circle cx="714.2" cy="599.7" r="3.2"/><circle cx="716.3" cy="598.2" r="3.2"/><circle cx="718.4" cy="596.6" r="3.2"/><circle cx="720.5" cy="595.1" r="3.2"/><circle cx="722.7" cy="593.7" r="3.2"/><circle cx="724.9" cy="592.3" r="3.2"/><circle cx="727.1" cy="590.9" r="3.2"/><circle cx="729.3" cy="589.6" r="3.2"/><circle cx="731.5" cy="588.2" r="3.2"/><circle cx="733.7" cy="586.9" r="3.2"/><circle cx="736.0" cy="585.6" r="3.2"/><circle cx="738.2" cy="584.3" r="3.2"/><circle cx="740.5" cy="583.1" r="3.2"/><circle cx="742.8" cy="581.8" r="3.2"/><circle cx="745.0" cy="580.4" r="3.2"/><circle cx="747.2" cy="579.1" r="3.2"/><circle cx="749.4" cy="577.7" r="3.2"/><circle cx="751.5" cy="576.2" r="3.2"/><circle cx="753.6" cy="574.7" r="3.2"/><circle cx="755.6" cy="573.1" r="3.2"/><circle cx="757.5" cy="571.3" r="3.2"/><circle cx="759.3" cy="569.4" r="3.2"/><circle cx="761.1" cy="567.5" r="3.2"/><circle cx="763.0" cy="565.7" r="3.2"/><circle cx="764.8" cy="563.9" r="3.2"/><circle cx="766.7" cy="562.1" r="3.2"/><circle cx="768.4" cy="560.2" r="3.2"/><circle cx="770.1" cy="558.2" r="3.2"/><circle cx="771.7" cy="556.1" r="3.2"/><circle cx="773.2" cy="554.0" r="3.2"/><circle cx="774.7" cy="551.9" r="3.2"/><circle cx="776.1" cy="549.7" r="3.2"/><circle cx="777.6" cy="547.6" r="3.2"/><circle cx="779.1" cy="545.4" r="3.2"/><circle cx="780.5" cy="543.3" r="3.2"/><circle cx="781.9" cy="541.1" r="3.2"/><circle cx="783.3" cy="538.9" r="3.2"/><circle cx="784.7" cy="536.7" r="3.2"/><circle cx="786.2" cy="534.6" r="3.2"/><circle cx="787.7" cy="532.5" r="3.2"/><circle cx="789.1" cy="530.3" r="3.2"/><circle cx="790.5" cy="528.1" r="3.2"/><circle cx="791.8" cy="525.9" r="3.2"/><circle cx="793.1" cy="523.6" r="3.2"/><circle cx="794.3" cy="521.3" r="3.2"/><circle cx="795.3" cy="518.9" r="3.2"/><circle cx="796.1" cy="516.4" r="3.2"/><circle cx="796.8" cy="513.9" r="3.2"/><circle cx="797.3" cy="511.4" r="3.2"/><circle cx="797.9" cy="508.8" r="3.2"/><circle cx="798.5" cy="506.3" r="3.2"/><circle cx="799.2" cy="503.8" r="3.2"/><circle cx="799.9" cy="501.3" r="3.2"/><circle cx="800.7" cy="498.9" r="3.2"/><circle cx="801.6" cy="496.4" r="3.2"/><circle cx="802.6" cy="494.0" r="3.2"/><circle cx="803.6" cy="491.6" r="3.2"/><circle cx="804.6" cy="489.2" r="3.2"/><circle cx="805.6" cy="486.9" r="3.2"/><circle cx="806.7" cy="484.5" r="3.2"/><circle cx="807.7" cy="482.1" r="3.2"/><circle cx="808.7" cy="479.7" r="3.2"/><circle cx="809.7" cy="477.3" r="3.2"/><circle cx="810.7" cy="474.9" r="3.2"/><circle cx="811.8" cy="472.5" r="3.2"/><circle cx="812.9" cy="470.2" r="3.2"/><circle cx="814.1" cy="467.9" r="3.2"/><circle cx="815.3" cy="465.6" r="3.2"/><circle cx="816.4" cy="463.3" r="3.2"/><circle cx="817.5" cy="460.9" r="3.2"/><circle cx="818.6" cy="458.5" r="3.2"/><circle cx="819.6" cy="456.1" r="3.2"/><circle cx="820.6" cy="453.7" r="3.2"/><circle cx="821.6" cy="451.3" r="3.2"/><circle cx="822.6" cy="448.9" r="3.2"/><circle cx="823.6" cy="446.5" r="3.2"/><circle cx="824.5" cy="444.1" r="3.2"/><circle cx="825.6" cy="441.8" r="3.2"/><circle cx="826.7" cy="439.4" r="3.2"/><circle cx="827.9" cy="437.1" r="3.2"/><circle cx="829.2" cy="434.8" r="3.2"/><circle cx="830.6" cy="432.7" r="3.2"/><circle cx="832.0" cy="430.5" r="3.2"/><circle cx="833.6" cy="428.5" r="3.2"/><circle cx="835.3" cy="426.5" r="3.2"/><circle cx="836.9" cy="424.5" r="3.2"/><circle cx="838.6" cy="422.5" r="3.2"/><circle cx="840.2" cy="420.5" r="3.2"/><circle cx="841.9" cy="418.5" r="3.2"/><circle cx="843.5" cy="416.4" r="3.2"/><circle cx="845.1" cy="414.4" r="3.2"/><circle cx="846.5" cy="412.2" r="3.2"/><circle cx="848.0" cy="410.1" r="3.2"/><circle cx="849.4" cy="407.9" r="3.2"/><circle cx="850.8" cy="405.7" r="3.2"/><circle cx="852.2" cy="403.5" r="3.2"/><circle cx="853.6" cy="401.3" r="3.2"/><circle cx="855.0" cy="399.2" r="3.2"/><circle cx="856.5" cy="397.0" r="3.2"/><circle cx="857.9" cy="394.9" r="3.2"/><circle cx="859.5" cy="392.8" r="3.2"/><circle cx="861.2" cy="390.8" r="3.2"/><circle cx="862.8" cy="388.8" r="3.2"/><circle cx="864.5" cy="386.8" r="3.2"/><circle cx="866.0" cy="384.7" r="3.2"/><circle cx="867.5" cy="382.5" r="3.2"/><circle cx="868.9" cy="380.4" r="3.2"/><circle cx="870.5" cy="378.3" r="3.2"/><circle cx="872.1" cy="376.3" r="3.2"/><circle cx="873.8" cy="374.3" r="3.2"/><circle cx="875.5" cy="372.3" r="3.2"/><circle cx="877.1" cy="370.4" r="3.2"/><circle cx="878.8" cy="368.4" r="3.2"/><circle cx="880.5" cy="366.4" r="3.2"/><circle cx="882.2" cy="364.4" r="3.2"/><circle cx="883.8" cy="362.4" r="3.2"/><circle cx="885.5" cy="360.4" r="3.2"/><circle cx="887.1" cy="358.4" r="3.2"/><circle cx="888.8" cy="356.4" r="3.2"/><circle cx="890.4" cy="354.4" r="3.2"/><circle cx="892.1" cy="352.4" r="3.2"/><circle cx="893.8" cy="350.4" r="3.2"/><circle cx="895.4" cy="348.4" r="3.2"/><circle cx="897.0" cy="346.4" r="3.2"/><circle cx="898.7" cy="344.4" r="3.2"/><circle cx="900.3" cy="342.4" r="3.2"/><circle cx="902.0" cy="340.4" r="3.2"/><circle cx="903.8" cy="338.5" r="3.2"/><circle cx="905.6" cy="336.6" r="3.2"/><circle cx="907.4" cy="334.8" r="3.2"/><circle cx="909.3" cy="333.0" r="3.2"/><circle cx="911.2" cy="331.2" r="3.2"/><circle cx="913.0" cy="329.4" r="3.2"/><circle cx="914.8" cy="327.5" r="3.2"/><circle cx="916.6" cy="325.6" r="3.2"/><circle cx="918.3" cy="323.7" r="3.2"/><circle cx="920.0" cy="321.7" r="3.2"/><circle cx="921.8" cy="319.8" r="3.2"/><circle cx="923.5" cy="317.9" r="3.2"/><circle cx="925.3" cy="316.0" r="3.2"/><circle cx="927.1" cy="314.1" r="3.2"/><circle cx="929.0" cy="312.3" r="3.2"/><circle cx="930.9" cy="310.5" r="3.2"/><circle cx="932.7" cy="308.7" r="3.2"/><circle cx="934.5" cy="306.8" r="3.2"/><circle cx="936.2" cy="304.9" r="3.2"/><circle cx="937.9" cy="302.9" r="3.2"/><circle cx="939.4" cy="300.8" r="3.2"/><circle cx="941.0" cy="298.7" r="3.2"/><circle cx="942.6" cy="296.7" r="3.2"/><circle cx="944.3" cy="294.7" r="3.2"/><circle cx="946.0" cy="292.8" r="3.2"/><circle cx="947.8" cy="290.9" r="3.2"/><circle cx="949.6" cy="289.0" r="3.2"/><circle cx="951.6" cy="287.3" r="3.2"/><circle cx="953.7" cy="285.9" r="3.2"/><circle cx="955.9" cy="284.6" r="3.2"/><circle cx="958.3" cy="283.4" r="3.2"/><circle cx="960.7" cy="282.4" r="3.2"/><circle cx="963.1" cy="281.5" r="3.2"/><circle cx="965.6" cy="280.7" r="3.2"/><circle cx="968.1" cy="280.0" r="3.2"/><circle cx="970.6" cy="279.4" r="3.2"/><circle cx="973.1" cy="278.9" r="3.2"/><circle cx="975.7" cy="278.3" r="3.2"/><circle cx="978.2" cy="277.6" r="3.2"/><circle cx="980.7" cy="277.0" r="3.2"/><circle cx="983.2" cy="276.4" r="3.2"/><circle cx="985.7" cy="275.7" r="3.2"/><circle cx="988.3" cy="275.1" r="3.2"/><circle cx="990.8" cy="274.5" r="3.2"/><circle cx="993.3" cy="273.8" r="3.2"/><circle cx="995.8" cy="273.2" r="3.2"/><circle cx="998.4" cy="272.9" r="3.2"/><circle cx="1001.0" cy="273.1" r="3.2"/><circle cx="1003.5" cy="273.6" r="3.2"/><circle cx="1006.0" cy="274.3" r="3.2"/><circle cx="1008.5" cy="275.1" r="3.2"/><circle cx="1010.9" cy="276.1" r="3.2"/><circle cx="1013.2" cy="277.3" r="3.2"/><circle cx="1015.5" cy="278.5" r="3.2"/><circle cx="1017.6" cy="280.0" r="3.2"/><circle cx="1019.4" cy="281.9" r="3.2"/><circle cx="1021.2" cy="283.7" r="3.2"/><circle cx="1023.5" cy="284.8" r="3.2"/><circle cx="1026.1" cy="285.1" r="3.2"/><circle cx="1028.7" cy="285.0" r="3.2"/><circle cx="1031.3" cy="284.9" r="3.2"/><circle cx="1033.9" cy="284.7" r="3.2"/></g><line x1="609" y1="739.3" x2="805.3" y2="529.8" stroke="#ff0000" stroke-width="5.5" stroke-linecap="round"/>
<polygon points="471.7,1174.7 509.9,1191.1 511.5,1187.7 475.5,1167.1" fill="#000"/><circle cx="473.6" cy="1170.9" r="4.3" fill="#000"/><polyline points="492.8,1162 510.7,1189.4 477,1190.8" fill="none" stroke="#000" stroke-width="4.4" stroke-linecap="round" stroke-linejoin="round"/><polygon points="494.6,1240.6 548.5,1212.4 546.9,1209.0 491.0,1232.8" fill="#000"/><circle cx="492.8" cy="1236.7" r="4.3" fill="#000"/><polyline points="514.8,1207.9 547.7,1210.7 529.2,1236.7" fill="none" stroke="#000" stroke-width="4.4" stroke-linecap="round" stroke-linejoin="round"/><polygon points="500.1,1319.3 578.9,1214.8 575.5,1212.0 492.5,1313.3" fill="#000"/><circle cx="496.3" cy="1316.3" r="4.8" fill="#000"/><polyline points="547,1225.8 577.2,1213.4 572.4,1245" fill="none" stroke="#000" stroke-width="4.4" stroke-linecap="round" stroke-linejoin="round"/><polygon points="750.2,1250.5 703.9,1208.3 701.3,1211.1 744.2,1256.7" fill="#000"/><circle cx="747.2" cy="1253.6" r="4.3" fill="#000"/><polyline points="734.1,1218.2 702.6,1209.7 711.2,1241.2" fill="none" stroke="#000" stroke-width="4.4" stroke-linecap="round" stroke-linejoin="round"/>
<text transform="translate(514.02,1425.50) scale(0.9763,1)" font-size="82">Potential (V vs. Ag/AgCl)</text><text transform="translate(172.42,80.10) scale(1.0133,1)" font-size="69">15</text><text transform="translate(172.42,447.80) scale(1.0133,1)" font-size="69">10</text><text transform="translate(207.08,815.40) scale(1.0069,1)" font-size="69">5</text><text transform="translate(206.98,1181.50) scale(1.0069,1)" font-size="69">0</text><text transform="translate(212.60,1294.60) scale(1.0009,1)" font-size="75">-1.0</text><text transform="translate(543.90,1294.60) scale(1.0009,1)" font-size="75">-0.5</text><text transform="translate(924.92,1294.60) scale(1.0281,1)" font-size="75">0</text><text transform="translate(1228.03,1293.80) scale(0.9886,1)" font-size="75">0.5</text><text transform="translate(1561.88,1295.50) scale(1.0035,1)" font-size="75">1.0</text><text transform="translate(295.59,1178.10) scale(1.0026,1)" font-size="60">-0.628</text><text transform="translate(321.81,1256.20) scale(0.9928,1)" font-size="60">-0.564</text><text transform="translate(360.99,1361.80) scale(1.0046,1)" font-size="60">-0.529</text><text transform="translate(706.49,1298.90) scale(1.0033,1)" font-size="60">-0.375</text><text transform="translate(360.72,108.70) scale(0.9812,1)" font-size="60">pristine TiO<tspan font-size="40" dy="11.4">2</tspan><tspan dy="-11.4">-NTAs</tspan></text><text transform="translate(357.11,183.10) scale(0.9905,1)" font-size="60">BiVO<tspan font-size="40" dy="11.4">4</tspan><tspan dy="-11.4">/TiO</tspan><tspan font-size="40" dy="11.4">2</tspan><tspan dy="-11.4">-NTAs-5</tspan></text><text transform="translate(951.01,112.00) scale(0.9918,1)" font-size="60">BiVO<tspan font-size="40" dy="11.4">4</tspan><tspan dy="-11.4">/TiO</tspan><tspan font-size="40" dy="11.4">2</tspan><tspan dy="-11.4">-NTAs-10</tspan></text><text transform="translate(951.01,183.10) scale(0.9918,1)" font-size="60">BiVO<tspan font-size="40" dy="11.4">4</tspan><tspan dy="-11.4">/TiO</tspan><tspan font-size="40" dy="11.4">2</tspan><tspan dy="-11.4">-NTAs-20</tspan></text><text transform="translate(452.65,266.80) scale(0.9494,1)" font-size="60">pure m&amp;t-BiVO<tspan font-size="40" dy="11.4">4</tspan><tspan dy="-11.4"> films</tspan></text><text transform="translate(542.59,827.80) scale(1.0076,1)" font-size="31">Potential (V vs. Ag/AgCl)</text><text transform="translate(342.01,227.30) scale(0.9964,1)" font-size="32">15</text><text transform="translate(342.00,400.20) scale(1.0000,1)" font-size="32">10</text><text transform="translate(357.69,575.30) scale(1.0071,1)" font-size="32">5</text><text transform="translate(357.65,749.00) scale(1.0500,1)" font-size="32">0</text><text transform="translate(367.25,780.90) scale(0.9490,1)" font-size="32">-0.5</text><text transform="translate(533.35,780.90) scale(0.9500,1)" font-size="32">0.0</text><text transform="translate(694.03,780.90) scale(0.9737,1)" font-size="32">0.5</text><text transform="translate(853.35,780.90) scale(0.9833,1)" font-size="32">1.0</text><text transform="translate(1014.31,780.90) scale(0.9972,1)" font-size="32">1.5</text><text transform="translate(580.14,775.10) scale(0.9630,1)" font-size="32">0.18</text><text transform="translate(94.50,886.33) rotate(-90) scale(0.9824,1)" font-size="82">C<tspan font-size="88" dy="-28">-</tspan><tspan font-size="55" dy="-2">2</tspan><tspan dy="30"> (10</tspan><tspan font-size="55" dy="-30">10</tspan><tspan dy="30">/F</tspan><tspan font-size="55" dy="-30">2</tspan><tspan dy="30"> cm</tspan><tspan font-size="55" dy="-30">4</tspan><tspan dy="30">)</tspan></text><text transform="translate(327.00,581.02) rotate(-90) scale(1.0111,1)" font-size="32">C<tspan font-size="34" dy="-11">-</tspan><tspan font-size="22" dy="-1">2</tspan><tspan dy="12"> (10</tspan><tspan font-size="22" dy="-12">10</tspan><tspan dy="12">/F</tspan><tspan font-size="22" dy="-12">2</tspan><tspan dy="12"> cm</tspan><tspan font-size="22" dy="-12">4</tspan><tspan dy="12">)</tspan></text>
<circle cx="319.7" cy="98" r="11.3" fill="#000"/><circle cx="321.8" cy="165.1" r="11.3" fill="#0000ff"/><circle cx="918.2" cy="94.7" r="11.3" fill="#00ff00"/><circle cx="918.2" cy="162.5" r="11.3" fill="#00ffff"/>
</svg>
</body></html>
